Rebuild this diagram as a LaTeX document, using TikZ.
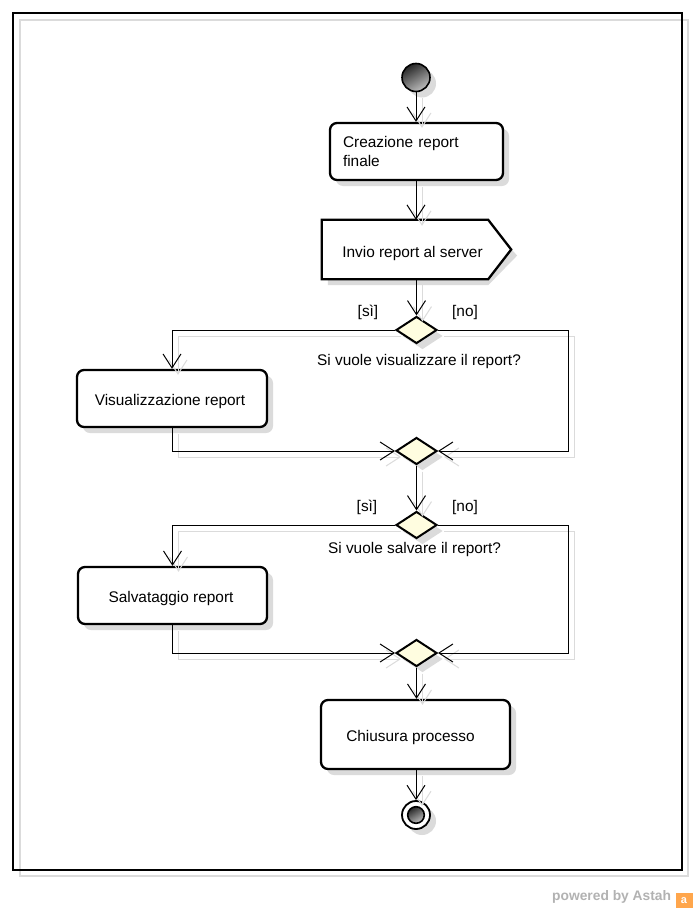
\documentclass[tikz,border=0pt]{standalone}
\usepackage{fontspec}
\setmainfont{Liberation Sans}
\usetikzlibrary{arrows.meta,shadows,calc,shapes.geometric}
\begin{document}
\begin{tikzpicture}[x=1pt,y=-1pt,
  every node/.style={font=\fontsize{15.4}{19}\selectfont},
  nodeshadow/.style={drop shadow={opacity=1,fill=black!14,shadow xshift=6pt,shadow yshift=-6pt}},
  action/.style={draw,line width=2.3pt,rounded corners=7pt,fill=white,inner sep=0pt,nodeshadow},
  oneline/.style={text height=13pt,text depth=0pt},
  decision/.style={diamond,draw,line width=2pt,fill=yellow!12,inner sep=0pt,minimum width=41pt,minimum height=27pt,nodeshadow},
  initnode/.style={circle,draw,line width=1.6pt,minimum size=28pt,inner sep=0pt,top color=black!85,bottom color=black!25,shading angle=30,nodeshadow},
  finalnode/.style={circle,draw,line width=1.8pt,minimum size=28pt,inner sep=0pt,fill=white,nodeshadow},
  txt/.style={inner sep=0pt,oneline},
  flowline/.style={draw=black,line width=1pt,-{Straight Barb[length=14pt,width=18pt]}},
  shadowline/.style={draw=black!14,line width=1pt,-{Straight Barb[length=14pt,width=18pt]},transform canvas={shift={(6pt,-6pt)}}}
]
\useasboundingbox (0,0) rectangle (696,910);
\fill[white] (0,0) rectangle (696,910);
% frame
\draw[black!14,line width=1.4pt] (20,20) rectangle (688,876);
\draw[black,line width=1.2pt] (13,13) rectangle (682,870);

% nodes
\node[initnode] (start) at (416,77.5) {};
\node[action,minimum width=173pt,minimum height=57pt,text width=147pt,align=left] (crea) at (416.5,151.5) {Creazione report\\finale};
% send signal
\node[inner sep=0pt,minimum width=189pt,minimum height=59pt] (invio) at (416.5,249.5) {};
\fill[black!14] ($(invio.north west)+(6,6)$) -- ($(invio.north east)+(-23,6)$) -- ($(invio.east)+(6,6)$) -- ($(invio.south east)+(-23,6)$) -- ($(invio.south west)+(6,6)$) -- cycle;
\draw[line width=2.3pt,fill=white] (invio.north west) -- ($(invio.north east)+(-23,0)$) -- (invio.east) -- ($(invio.south east)+(-23,0)$) -- (invio.south west) -- cycle;
\node[txt] (invioT) at (412.5,251) {Invio report al server};

\node[decision] (d1) at (416.5,330) {};
\node[action,oneline,minimum width=190pt,minimum height=57pt,execute at begin node={\hspace*{-4pt}}] (vis) at (172,398.5) {Visualizzazione report};
\node[decision] (d2) at (416.5,451) {};
\node[decision] (d3) at (416.5,525) {};
\node[action,oneline,minimum width=189pt,minimum height=57pt,execute at begin node={\hspace*{-3pt}}] (salv) at (172.5,595.5) {Salvataggio report};
\node[decision] (d4) at (416.5,653) {};
\node[action,oneline,minimum width=189pt,minimum height=69pt,execute at begin node={\hspace*{-10pt}}] (chiu) at (415.5,734.5) {Chiusura processo};
\node[finalnode] (fine) at (416,815) {};
\draw[line width=1.6pt,top color=black!85,bottom color=black!25,shading angle=30] (fine.center) circle (8.3);

\coordinate (r1) at (568,330);
\coordinate (r2) at (568,525);

% labels
\node[txt] (s1) at (368,310) {[sì]};
\node[txt] (n1) at (465,310) {[no]};
\node[txt] (q1) at (419,358.5) {Si vuole visualizzare il report?};
\node[txt] (s2) at (367,505) {[sì]};
\node[txt] (n2) at (465,505) {[no]};
\node[txt] (q2) at (414.5,547) {Si vuole salvare il report?};

% connectors (shadow then line)
\foreach \st in {shadowline,flowline}{
  \draw[\st] (start) -- (crea.north -| start);
  \draw[\st] (crea.south -| start) -- (invio.north -| start);
  \draw[\st] (invio.south -| d1) -- (d1.north);
  \draw[\st] (d1.west) -| (vis.north);
  \draw[\st] (d1.east) -- (r1) |- (d2.east);
  \draw[\st] (vis.south) |- (d2.west);
  \draw[\st] (d2.south) -- (d3.north);
  \draw[\st] (d3.west) -| (salv.north);
  \draw[\st] (d3.east) -- (r2) |- (d4.east);
  \draw[\st] (salv.south) |- (d4.west);
  \draw[\st] (d4.south) -- (chiu.north -| d4);
  \draw[\st] (chiu.south -| fine) -- (fine.north);
}

% powered by
\node[inner sep=0pt,font=\fontsize{13.8}{16}\selectfont\bfseries,text=black!30,anchor=west] (pow) at (552,897) {powered by Astah};
\node[inner sep=0pt,minimum width=17pt,minimum height=15pt,fill=orange!70,text=white,font=\fontsize{11}{12}\selectfont\bfseries] (logo) at (684,900.5) {a};
\end{tikzpicture}
\end{document}
